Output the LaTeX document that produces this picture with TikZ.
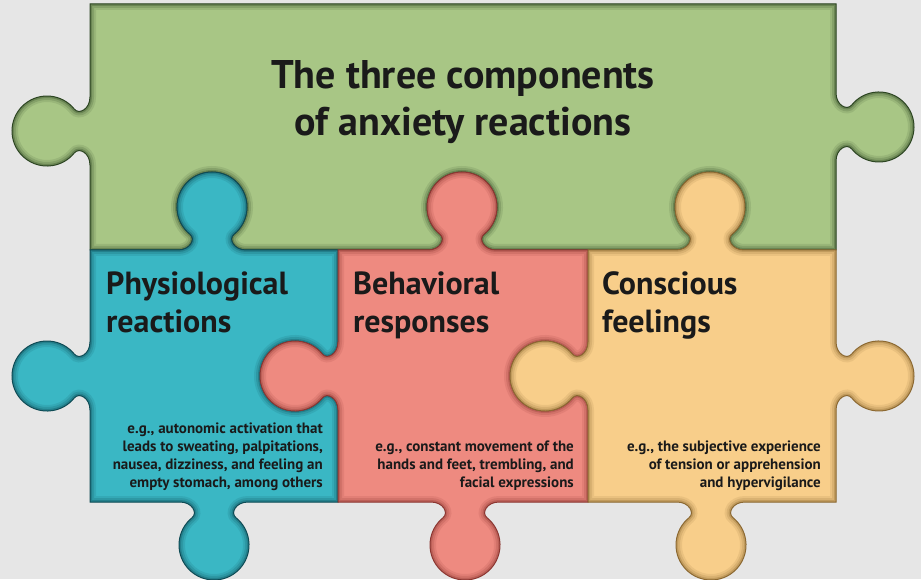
\documentclass[tikz,border=0pt]{standalone}
\usepackage{fontspec}
\setmainfont{PT Sans}
\definecolor{bg}{HTML}{E6E6E6}
\definecolor{gfill}{HTML}{A8C685}
\definecolor{gdark}{HTML}{2D4623}
\definecolor{bfill}{HTML}{3AB7C4}
\definecolor{bdark}{HTML}{0F4B55}
\definecolor{rfill}{HTML}{EE8A80}
\definecolor{rdark}{HTML}{8C3732}
\definecolor{ofill}{HTML}{F8CE8A}
\definecolor{odark}{HTML}{8C6932}
\definecolor{txt}{HTML}{1A1A1A}
% puzzle tab: #1,#2 base centre, #3 direction of tab, #4 = 1 out / -1 in
\newcommand\tb[4]{%
 -- ([shift={(#1,#2)},rotate=#3-90,xscale=#4]34,0)
 .. controls ([shift={(#1,#2)},rotate=#3-90,xscale=#4]22,0) and ([shift={(#1,#2)},rotate=#3-90,xscale=#4]15.8,10.8) .. ([shift={(#1,#2)},rotate=#3-90,xscale=#4]22,15.8)
 arc[start angle={#3-141*(#4)}, end angle={#3+141*(#4)}, radius=35]
 .. controls ([shift={(#1,#2)},rotate=#3-90,xscale=#4]-15.8,10.8) and ([shift={(#1,#2)},rotate=#3-90,xscale=#4]-22,0) .. ([shift={(#1,#2)},rotate=#3-90,xscale=#4]-34,0)}
\newcommand\greenpath{(90,329) \tb{212}{329}{90}{-1} \tb{462}{329}{90}{-1} \tb{710}{329}{90}{-1} -- (836,329) \tb{836}{452}{0}{1} -- (836,575) -- (90,575) \tb{90}{448}{180}{1} -- cycle}
\newcommand\bluepath{(90,77) \tb{214}{77}{-90}{1} -- (338,77) \tb{338}{203}{180}{-1} -- (338,329) \tb{212}{329}{90}{1} -- (90,329) \tb{90}{203}{180}{1} -- cycle}
\newcommand\redpath{(338,77) \tb{465}{77}{-90}{1} -- (588,77) \tb{588}{203}{180}{-1} -- (588,329) \tb{462}{329}{90}{1} -- (338,329) \tb{338}{203}{180}{1} -- cycle}
\newcommand\orangepath{(588,77) \tb{711}{77}{-90}{1} -- (836,77) \tb{836}{203}{0}{1} -- (836,329) \tb{710}{329}{90}{1} -- (588,329) \tb{588}{203}{180}{1} -- cycle}
\newcommand\piece[3]{%
 \fill[#2] #1;
 \begin{scope}
  \clip #1;
  \draw[#3, line width=12pt, opacity=0.12] #1;
  \draw[#3, line width=8pt, opacity=0.18] #1;
  \draw[#3, line width=4pt, opacity=0.3] #1;
 \end{scope}
 \draw[#3, line width=1pt] #1;}
\begin{document}
\begin{tikzpicture}[x=1pt,y=1pt,
  title/.style={font=\bfseries\fontsize{40}{47}\selectfont, text=txt, align=center, inner sep=0pt, anchor=base},
  head/.style={font=\bfseries\fontsize{32}{38}\selectfont, text=txt, align=left, inner sep=0pt, anchor=base west},
  small/.style={font=\bfseries\fontsize{15}{18}\selectfont, text=txt, align=right, inner sep=0pt, anchor=base east}]
\useasboundingbox (0,0) rectangle (921,579);
\fill[bg] (0,0) rectangle (921,579);
\piece{\greenpath}{gfill}{gdark}
\piece{\bluepath}{bfill}{bdark}
\piece{\redpath}{rfill}{rdark}
\piece{\orangepath}{ofill}{odark}
\node[title] (t) at (463,443) {The three components\\of anxiety reactions};
\node[head] (h1) at (106,247) {Physiological\\reactions};
\node[head] (h2) at (353,247) {Behavioral\\responses};
\node[head] (h3) at (602,247) {Conscious\\feelings};
\node[small] (s1) at (323,92) {e.g., autonomic activation that\\leads to sweating, palpitations,\\nausea, dizziness, and feeling an\\empty stomach, among others};
\node[small] (s2) at (574,92) {e.g., constant movement of the\\hands and feet, trembling, and\\facial expressions};
\node[small] (s3) at (821,92) {e.g., the subjective experience\\of tension or apprehension\\and hypervigilance};
\end{tikzpicture}
\end{document}
